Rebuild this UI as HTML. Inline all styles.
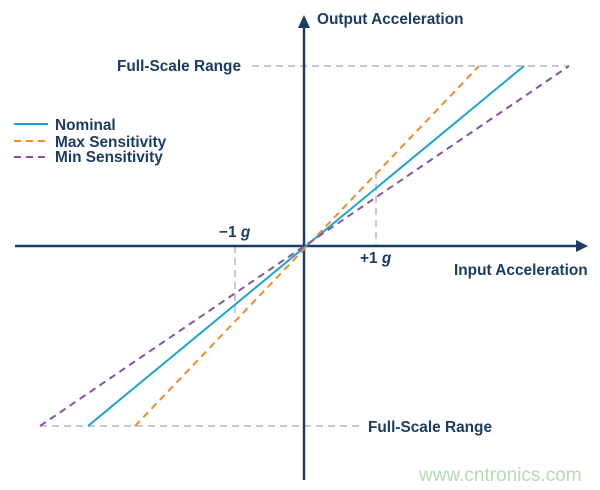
<!DOCTYPE html>
<html><head><meta charset="utf-8"><style>
html,body{margin:0;padding:0;background:#fff;}
svg{display:block;}
text{font-family:"Liberation Sans",sans-serif;font-weight:bold;fill:#1b3d63;font-size:15.4px;}
</style></head><body>
<svg width="600" height="490" viewBox="0 0 600 490" xmlns="http://www.w3.org/2000/svg">
<g stroke="#c9c6d8" stroke-width="2" stroke-dasharray="7,5" fill="none">
<line x1="252" y1="66" x2="569" y2="66"/>
<line x1="40" y1="426" x2="363" y2="426"/>
<line x1="376" y1="172" x2="376" y2="246"/>
<line x1="235" y1="246" x2="235" y2="317"/>
</g>
<g stroke="#1b3d63" stroke-width="2.5" fill="none">
<line x1="15" y1="246" x2="580" y2="246"/>
<line x1="304" y1="24" x2="304" y2="480"/>
</g>
<polygon points="588,246 576,240 576,252" fill="#1b3d63"/>
<polygon points="304,15 298,28 310,28" fill="#1b3d63"/>
<line x1="88" y1="426" x2="524" y2="66" stroke="#1aa3cf" stroke-width="2"/>
<line x1="135" y1="426" x2="479" y2="66" stroke="#f08a2c" stroke-width="2" stroke-dasharray="7,5"/>
<line x1="40" y1="426" x2="569" y2="66" stroke="#8a52a6" stroke-width="2" stroke-dasharray="7,5"/>
<line x1="14" y1="124" x2="48" y2="124" stroke="#1aa3cf" stroke-width="2"/>
<line x1="14" y1="141" x2="48" y2="141" stroke="#f08a2c" stroke-width="2" stroke-dasharray="7,5"/>
<line x1="14" y1="157" x2="48" y2="157" stroke="#8a52a6" stroke-width="2" stroke-dasharray="7,5"/>
<text x="55" y="130">Nominal</text>
<text x="55" y="147">Max Sensitivity</text>
<text x="55" y="162">Min Sensitivity</text>
<text x="317" y="24">Output Acceleration</text>
<text x="117" y="71">Full-Scale Range</text>
<text x="368" y="432">Full-Scale Range</text>
<text x="454" y="275">Input Acceleration</text>
<text x="219" y="237">−1 <tspan font-style="italic">g</tspan></text>
<text x="360" y="263">+1 <tspan font-style="italic">g</tspan></text>
<text x="419" y="481" style="font-weight:normal;fill:#b5dbb0;font-size:19px">www.cntronics.com</text>
</svg>
</body></html>
